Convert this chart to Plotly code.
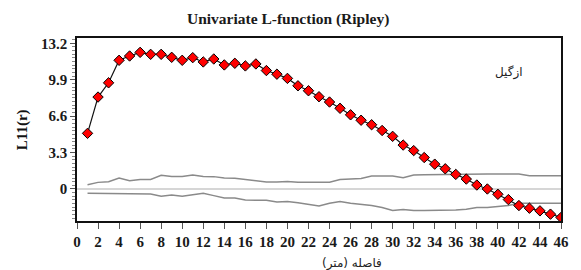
import plotly.graph_objects as go

distance = list(range(1, 47))
l_values = [5.04, 8.33, 9.62, 11.66, 12.05, 12.38, 12.2, 12.2, 11.93, 11.66,
            11.9, 11.51, 11.78, 11.24, 11.39, 11.15, 11.33, 10.73, 10.4, 10.02,
            9.35, 8.9, 8.36, 7.88, 7.31, 6.72, 6.23, 5.82, 5.3, 4.77,
            3.98, 3.48, 2.85, 2.25, 1.83, 1.32, 0.9, 0.36, 0.0, -0.48,
            -0.96, -1.5, -1.74, -1.98, -2.28, -2.58]
upper_env = [0.39, 0.6, 0.66, 1.0, 0.75, 0.85, 0.87, 1.25, 1.14, 1.14,
             1.27, 1.14, 1.12, 0.99, 0.97, 0.84, 0.7, 0.63, 0.63, 0.68,
             0.6, 0.6, 0.6, 0.62, 0.85, 0.88, 0.95, 1.17, 1.17, 1.17,
             1.02, 1.26, 1.28, 1.3, 1.3, 1.32, 1.35, 1.35, 1.35, 1.35,
             1.35, 1.35, 1.2, 1.2, 1.2, 1.2]
lower_env = [-0.39, -0.39, -0.39, -0.39, -0.39, -0.39, -0.45, -0.66, -0.55, -0.66,
             -0.55, -0.38, -0.6, -0.81, -0.82, -1.0, -1.02, -1.02, -1.17, -1.13,
             -1.25, -1.4, -1.55, -1.3, -1.13, -1.3, -1.4, -1.5, -1.67, -1.94,
             -1.85, -1.94, -1.95, -1.95, -1.95, -1.9, -1.83, -1.68, -1.68, -1.6,
             -1.5, -1.3, -1.29, -1.29, -1.29, -1.29]
zero_x = [0, 46]
zero_y = [0, 0]
x_ticks = list(range(0, 47, 2))
y_ticks = [0, 3.3, 6.6, 9.9, 13.2]

serif = "Liberation Serif, Times New Roman, serif"

fig = go.Figure()
fig.add_trace(go.Scatter(x=zero_x, y=zero_y, mode="lines",
                         line=dict(color="#c8c8c8", width=1.5), showlegend=False))
fig.add_trace(go.Scatter(x=distance, y=upper_env, mode="lines",
                         line=dict(color="#8a8a8a", width=1.5), showlegend=False))
fig.add_trace(go.Scatter(x=distance, y=lower_env, mode="lines",
                         line=dict(color="#8a8a8a", width=1.5), showlegend=False))
fig.add_trace(go.Scatter(x=distance, y=l_values, mode="lines+markers",
                         line=dict(color="#111111", width=1.2),
                         marker=dict(symbol="diamond", size=8, color="#ff0000",
                                     line=dict(color="#000000", width=1)),
                         showlegend=False))

fig.update_layout(
    width=581, height=270,
    margin=dict(l=77, r=14, t=38, b=49),
    paper_bgcolor="white", plot_bgcolor="white",
    title=dict(text="Univariate L-function (Ripley)", x=0.496, xanchor="center",
               y=0.933, yanchor="middle",
               font=dict(family=serif, size=15.5, color="#1a1a1a", weight="bold")),
    xaxis=dict(range=[0, 46], tickvals=x_ticks, ticktext=[str(v) for v in x_ticks],
               showgrid=False, zeroline=False, showline=True, linecolor="#111111",
               linewidth=1.5, mirror=True, ticks="outside", ticklen=6,
               tickcolor="#555555", tickwidth=1,
               tickfont=dict(family=serif, size=15, color="#1a1a1a", weight="bold")),
    yaxis=dict(range=[-2.9, 13.68], tickvals=y_ticks,
               ticktext=["0", "3.3", "6.6", "9.9", "13.2"],
               showgrid=False, zeroline=False, showline=True, linecolor="#111111",
               linewidth=1.5, mirror=True, ticks="outside", ticklen=5,
               tickcolor="#555555", tickwidth=1,
               minor=dict(dtick=0.33, tick0=0, ticks="outside", ticklen=3,
                          tickcolor="#888888", tickwidth=1, showgrid=False),
               tickfont=dict(family=serif, size=15, color="#1a1a1a", weight="bold")),
    annotations=[
        dict(text="L11(r)", xref="paper", yref="paper", x=-0.112, y=0.5,
             textangle=-90, showarrow=False, xanchor="center", yanchor="middle",
             font=dict(family=serif, size=15, color="#111111", weight="bold")),
        dict(text="فاصله (متر)", xref="paper", yref="paper", x=0.569, y=-0.23,
             showarrow=False, xanchor="center", yanchor="middle",
             font=dict(family="DejaVu Sans, Noto Sans", size=12, color="#222222")),
        dict(text="ازگیل", xref="paper", yref="paper", x=0.892, y=0.809,
             showarrow=False, xanchor="center", yanchor="middle",
             font=dict(family="DejaVu Sans, Noto Sans", size=12, color="#222222")),
    ],
)

fig.write_html("out.html", config={"displayModeBar": False},
               post_script="document.body.style.margin='0';document.body.style.overflow='hidden';")
